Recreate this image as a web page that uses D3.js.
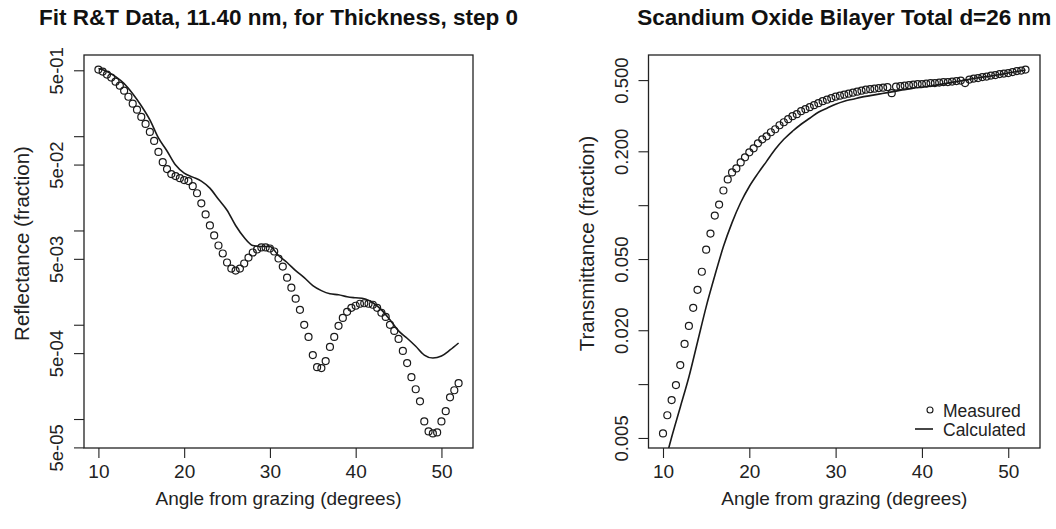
<!DOCTYPE html>
<html><head><meta charset="utf-8">
<script src="https://cdn.jsdelivr.net/npm/d3@7"></script>
<style>
html,body{margin:0;padding:0;background:#fff;}
svg{display:block;font-family:"Liberation Sans",Arial,Helvetica,sans-serif;}
</style></head><body>
<svg id="chart" width="1056" height="529"></svg>
<script>
// Measurement angles (degrees from grazing)
const measAngle = [10,10.5,11,11.5,12,12.5,13,13.5,14,14.5,15,15.5,16,16.5,17,17.5,18,18.5,19,19.5,
  20,20.5,21,21.5,22,22.5,23,23.5,24,24.5,25,25.5,26,26.5,27,27.5,28,28.5,29,29.5,
  30,30.5,31,31.5,32,32.5,33,33.5,34,34.5,35,35.5,36,36.5,37,37.5,38,38.5,39,39.5,
  40,40.5,41,41.5,42,42.5,43,43.5,44,44.5,45,45.5,46,46.5,47,47.5,48,48.5,49,49.5,
  50,50.5,51,51.5,52];

// Measured reflectance (fraction)
const reflMeasured = [0.509,0.484,0.450,0.418,0.379,0.343,0.304,0.262,0.221,0.191,
  0.160,0.135,0.111,0.089,0.068,0.053,0.0448,0.0396,0.0377,0.0359,
  0.0342,0.0334,0.0295,0.0248,0.0194,0.0148,0.0113,0.00886,0.00693,0.00570,
  0.00457,0.00394,0.00375,0.00394,0.00446,0.00516,0.00584,0.00628,0.0066,0.0066,
  0.00644,0.00598,0.00504,0.00414,0.00316,0.00247,0.00189,0.00144,0.000997,0.000743,
  0.000477,0.000355,0.000347,0.000412,0.000581,0.000743,0.000973,0.00118,0.00137,0.00151,
  0.00159,0.00167,0.00169,0.00167,0.00163,0.00151,0.00134,0.00121,0.000997,0.00086,
  0.000707,0.000527,0.000392,0.000278,0.000207,0.000154,0.0000944,0.0000739,0.0000703,0.0000720,
  0.0000944,0.000121,0.000170,0.000202,0.00024];

// Measured transmittance (fraction)
const transMeasured = [0.0053,0.0067,0.00814,0.00987,0.01278,0.01676,0.02115,0.02668,0.03366,0.04246,
  0.05642,0.06937,0.08749,0.1008,0.1208,0.1393,0.1524,0.1605,0.1734,0.1850,
  0.1973,0.2078,0.2217,0.2334,0.2426,0.2555,0.2656,0.2797,0.2907,0.3022,
  0.3142,0.3224,0.3351,0.3439,0.3529,0.3622,0.3715,0.3813,0.3887,0.3963,
  0.4041,0.4093,0.4146,0.4200,0.4255,0.4310,0.4366,0.4422,0.4451,0.4480,
  0.4509,0.4538,0.4568,0.4227,0.4598,0.4628,0.4658,0.4688,0.4718,0.4749,
  0.4749,0.4779,0.4810,0.4810,0.4841,0.4873,0.4873,0.4904,0.4936,0.4968,
  0.4810,0.5032,0.5098,0.5131,0.5197,0.5231,0.5299,0.5333,0.5402,0.5437,
  0.5472,0.5544,0.5616,0.5653,0.5726];

// Model angles and calculated curves
const calcAngle = [10,11,12,13,14,15,16,17,18,19,20,21,22,23,24,25,26,27,28,29,30,
  31,32,33,34,35,36,37,38,39,40,41,42,43,44,45,46,47,48,49,50,51,52];
const reflCalculated = [0.521,0.484,0.428,0.361,0.282,0.210,0.149,0.0958,0.0697,0.0494,0.0406,
  0.0368,0.0334,0.0281,0.0214,0.0164,0.0113,0.00843,0.00693,0.00676,0.00676,
  0.00542,0.00457,0.00375,0.00316,0.0026,0.0023,0.00213,0.00208,0.00198,0.00193,
  0.00189,0.00171,0.00144,0.00113,0.00086,0.000719,0.000591,0.000477,0.000443,0.000466,
  0.00054,0.00064];
const transCalculated = [0.00334,0.00505,0.00743,0.01095,0.0172,0.02703,0.04032,0.05866,0.0799,0.1035,0.1272,
  0.1505,0.1757,0.2051,0.2334,0.2588,0.2833,0.3061,0.3308,0.3483,0.3667,
  0.3813,0.3912,0.4015,0.4093,0.4173,0.4255,0.4337,0.4422,0.4509,0.4568,
  0.4628,0.4718,0.4810,0.4904,0.5,0.5098,0.5197,0.5265,0.5368,0.5472,
  0.5580,0.5689];

// Axis ticks
const xTicks = [10,20,30,40,50];
const reflTicks = [5e-5,1e-4,5e-4,1e-3,5e-3,1e-2,5e-2,1e-1,5e-1];
const reflTickLabels = ["5e-05","","5e-04","","5e-03","","5e-02","","5e-01"];
const transTicks = [0.005,0.01,0.02,0.05,0.1,0.2,0.5];
const transTickLabels = ["0.005","","0.020","0.050","","0.200","0.500"];

const legendLabels = ["Measured","Calculated"];

const svg = d3.select("#chart");
const FONT = 19;        // horizontal text
const FONT_ROT = 18.5;  // rotated tick labels
const FONT_YLAB = 20.5; // rotated axis titles
const INK = "#1a1a1a";

function padLinear([a,b]) { const d = (b-a)*0.04; return [a-d, b+d]; }
function padLog([a,b]) {
  const la = Math.log10(a), lb = Math.log10(b), d = (lb-la)*0.04;
  return [Math.pow(10, la-d), Math.pow(10, lb+d)];
}

function drawPanel(p) {
  const g = svg.append("g");
  const x = d3.scaleLinear().domain(padLinear(d3.extent(p.xMeas))).range([p.box.left, p.box.right]);
  const y = d3.scaleLog().domain(padLog(d3.extent(p.yMeas))).range([p.box.bottom, p.box.top]);
  const cx = (p.box.left + p.box.right)/2, cy = (p.box.top + p.box.bottom)/2;

  const clipId = "clip-" + p.id;
  g.append("clipPath").attr("id", clipId).append("rect")
    .attr("x", p.box.left).attr("y", p.box.top)
    .attr("width", p.box.right - p.box.left).attr("height", p.box.bottom - p.box.top);

  // calculated curve
  const line = d3.line().x((d,i) => x(p.xCalc[i])).y(d => y(d)).curve(d3.curveMonotoneX);
  g.append("path").datum(p.yCalc).attr("d", line)
    .attr("clip-path", `url(#${clipId})`)
    .attr("fill","none").attr("stroke",INK).attr("stroke-width",1.6);

  // measured points
  g.append("g").selectAll("circle").data(p.yMeas).join("circle")
    .attr("cx",(d,i)=>x(p.xMeas[i])).attr("cy",d=>y(d)).attr("r",3.5)
    .attr("fill","none").attr("stroke",INK).attr("stroke-width",1.2);

  // frame
  g.append("rect").attr("x",p.box.left).attr("y",p.box.top)
    .attr("width",p.box.right-p.box.left).attr("height",p.box.bottom-p.box.top)
    .attr("fill","none").attr("stroke","#222").attr("stroke-width",1.3);

  // x axis
  const xa = g.append("g").attr("transform",`translate(0,${p.box.bottom})`)
    .call(d3.axisBottom(x).tickValues(xTicks).tickSize(10).tickFormat(d3.format("d")));
  xa.select(".domain").remove();
  xa.selectAll(".tick line").attr("stroke","#222").attr("stroke-width",1.1);
  xa.selectAll(".tick text").attr("y",17).attr("dy","0.71em")
    .attr("font-size",FONT).attr("font-family",null).attr("fill","#222");

  // y axis
  const ya = g.append("g").attr("transform",`translate(${p.box.left},0)`)
    .call(d3.axisLeft(y).tickValues(p.yTicks).tickSize(10)
      .tickFormat((d,i) => p.yTickLabels[i]));
  ya.select(".domain").remove();
  ya.selectAll(".tick line").attr("stroke","#222").attr("stroke-width",1.1);
  ya.selectAll(".tick text").attr("x",null).attr("dy","0.35em")
    .attr("transform","translate(-27,0) rotate(-90)")
    .attr("text-anchor","middle")
    .attr("font-size",FONT_ROT).attr("font-family",null).attr("fill","#222");

  // axis titles
  g.append("text").attr("x",cx).attr("y",498).attr("dy","0.35em")
    .attr("text-anchor","middle").attr("font-size",FONT).attr("fill","#222")
    .text("Angle from grazing (degrees)");
  g.append("text").attr("transform",`translate(${p.box.left-62},${cy - 8}) rotate(-90)`)
    .attr("dy","0.35em").attr("text-anchor","middle").attr("font-size",FONT_YLAB).attr("fill","#222")
    .text(p.yLabel);

  // main title
  g.append("text").attr("x",cx).attr("y",25).attr("text-anchor","middle")
    .attr("font-size",22.5).attr("font-weight","bold").attr("fill","#111")
    .text(p.title);

  return {g, x, y};
}

drawPanel({
  id: "refl",
  box: {left: 84, right: 473, top: 55, bottom: 448},
  title: "Fit R&T Data, 11.40 nm, for Thickness, step 0",
  yLabel: "Reflectance (fraction)",
  xMeas: measAngle, yMeas: reflMeasured,
  xCalc: calcAngle, yCalc: reflCalculated,
  yTicks: reflTicks, yTickLabels: reflTickLabels
});

const right = drawPanel({
  id: "trans",
  box: {left: 648.5, right: 1040, top: 55, bottom: 448},
  title: "Scandium Oxide Bilayer Total d=26 nm",
  yLabel: "Transmittance (fraction)",
  xMeas: measAngle, yMeas: transMeasured,
  xCalc: calcAngle, yCalc: transCalculated,
  yTicks: transTicks, yTickLabels: transTickLabels
});

// legend (bottom-right, no frame)
const LEG_ROW = 19;
const lg = right.g.append("g").attr("transform","translate(915,410)");
lg.append("circle").attr("cx",15).attr("cy",0).attr("r",3)
  .attr("fill","none").attr("stroke",INK).attr("stroke-width",1.1);
lg.append("line").attr("x1",0).attr("x2",18).attr("y1",LEG_ROW).attr("y2",LEG_ROW)
  .attr("stroke",INK).attr("stroke-width",1.6);
lg.selectAll("text.lab").data(legendLabels).join("text").attr("class","lab")
  .attr("x",28).attr("y",(d,i)=>1+i*LEG_ROW).attr("dy","0.35em")
  .attr("font-size",17.5).attr("fill","#222").text(d=>d);
</script>
</body></html>
